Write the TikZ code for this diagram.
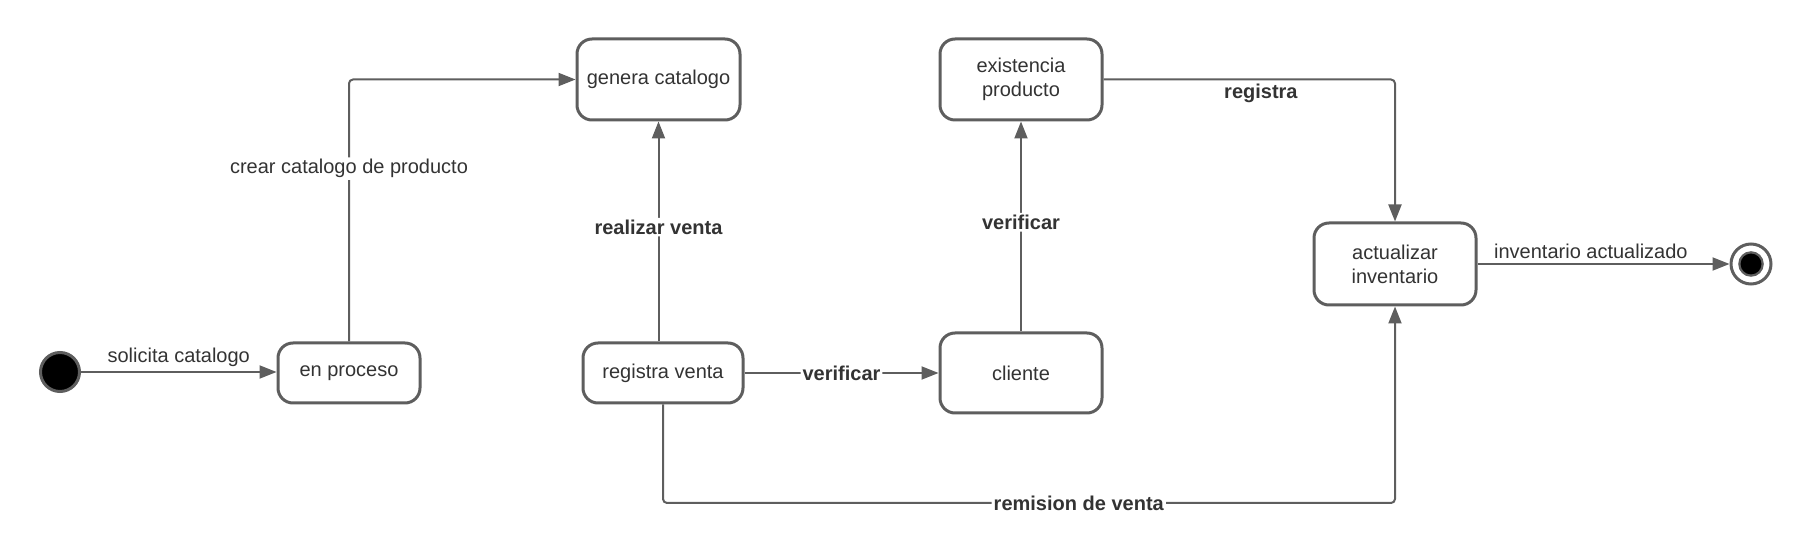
\documentclass[tikz,border=0pt]{standalone}
\usepackage{fontspec}
\setmainfont{Liberation Sans}
\usetikzlibrary{arrows.meta}
\definecolor{linea}{HTML}{5E5E5E}
\definecolor{texto}{HTML}{333333}

\begin{document}
\begin{tikzpicture}[x=0.5pt, y=-0.5pt,
    estado/.style={draw=linea, line width=1.5pt, rounded corners=7.5pt, fill=white,
        text=texto, align=center, inner sep=0pt, font=\fontsize{10}{12}\selectfont},
    inicio/.style={circle, draw=linea, line width=1.5pt, fill=black, minimum size=19.5pt, inner sep=0pt},
    fin/.style={circle, draw=linea, line width=1.5pt, fill=white, minimum size=20pt, inner sep=0pt,
        path picture={\fill[linea] (path picture bounding box.center) circle (6.4pt);
                      \fill[black] (path picture bounding box.center) circle (5.2pt);}},
    flecha/.style={draw=linea, line width=1pt, rounded corners=2pt,
        -{Triangle[length=8.5pt, width=6.5pt]}},
    etiqueta/.style={text=texto, font=\fontsize{10}{12}\selectfont, inner sep=1pt},
    guardia/.style={etiqueta, fill=white, font=\fontsize{10}{12}\selectfont\bfseries}]
    \useasboundingbox (0,0) rectangle (1812,555);

    % States
    \node[inicio] (ini) at (60,372) {};
    \node[estado, minimum width=71pt, minimum height=30pt] (pro) at (349,373) {en proceso};
    \node[estado, minimum width=81.5pt, minimum height=40.5pt] (gen) at (658.5,79.5) {genera catalogo};
    \node[estado, minimum width=80pt, minimum height=30pt] (reg) at (663,373) {registra venta};
    \node[estado, minimum width=81pt, minimum height=40.5pt] (exi) at (1021,79.5) {existencia\\producto};
    \node[estado, minimum width=81pt, minimum height=40pt] (cli) at (1021,373) {cliente};
    \node[estado, minimum width=81pt, minimum height=41pt] (act) at (1395,264) {actualizar\\inventario};
    \node[fin] (fin) at (1751,264) {};
    \coordinate (rem) at (663,503);

    % Transitions
    \draw[flecha] (ini.east) -- node[etiqueta, midway, above=1pt] {solicita catalogo} (ini -| pro.west);
    \draw[flecha] (pro.north) |- node[etiqueta, fill=white, pos=0.33] {crear catalogo de producto} (gen.west);
    \draw[flecha] (gen.south |- reg.north) -- node[guardia, pos=0.52] {realizar venta} (gen.south);
    \draw[flecha] (reg) -- node[guardia, midway] {verificar} (cli);
    \draw[flecha] (cli) -- node[guardia, pos=0.52] {verificar} (exi);
    \draw[flecha] (exi.east) -| node[guardia, fill=none, pos=0.27, below=1pt] {registra} (act.north);
    \draw[flecha] (reg.south) -- (rem) -| node[guardia, pos=0.284] {remision de venta} (act.south);
    \draw[flecha] (act) -- node[etiqueta, pos=0.45, above=1pt] {inventario actualizado} (fin);
\end{tikzpicture}
\end{document}
